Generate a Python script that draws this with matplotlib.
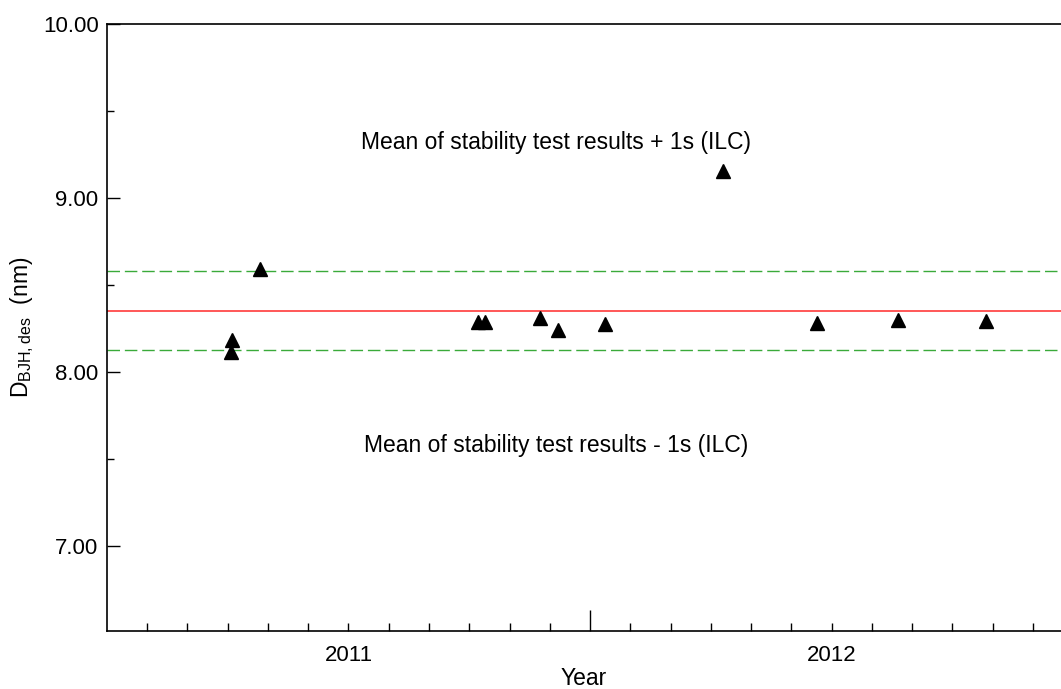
import matplotlib.pyplot as plt
from matplotlib.ticker import MultipleLocator, FixedLocator, FixedFormatter

plt.rcParams['font.family'] = ['Liberation Sans', 'DejaVu Sans']
plt.rcParams['mathtext.fontset'] = 'custom'
plt.rcParams['mathtext.rm'] = 'Liberation Sans'

# measurement dates (decimal year) and pore diameters
dates = [2011.259, 2011.257, 2011.317, 2011.768, 2011.783, 2011.896,
         2011.934, 2012.031, 2012.275, 2012.470, 2012.638, 2012.820]
diam = [8.186, 8.118, 8.592, 8.291, 8.291, 8.313,
        8.245, 8.275, 9.159, 8.283, 8.302, 8.293]

mean_ilc = 8.355
sd_ilc = 0.227

year_labels = {2011.5: '2011', 2012.5: '2012'}

fig = plt.figure(figsize=(10.61, 6.89), dpi=100)
ax = fig.add_axes([0.1008, 0.0846, 0.8992, 0.8801])

ax.axhline(mean_ilc, color='#ff2a2a', lw=1.1, zorder=1)
ax.axhline(mean_ilc + sd_ilc, color='#3aaa3a', lw=1.0, dashes=(9, 3.5), zorder=1)
ax.axhline(mean_ilc - sd_ilc, color='#3aaa3a', lw=1.0, dashes=(9, 3.5), zorder=1)
ax.plot(dates, diam, linestyle='none', marker='^', ms=9.5, color='black', zorder=3)

ax.set_xlim(2011.0, 2012.975)
ax.set_ylim(6.515, 10.0)

# y axis
ax.yaxis.set_major_locator(MultipleLocator(1.0))
ax.yaxis.set_minor_locator(MultipleLocator(0.5))
ax.yaxis.set_major_formatter(plt.FormatStrFormatter('%.2f'))

# x axis: long tick at the year boundary, monthly minor ticks, year names mid-year
months = [round(2011 + i / 12, 6) for i in range(1, 24) if i != 12]
ax.xaxis.set_major_locator(FixedLocator([2012.0]))
ax.xaxis.set_major_formatter(FixedFormatter(['']))
ax.set_xticks(months, [year_labels.get(m, '') for m in months], minor=True)

ax.tick_params(axis='both', which='both', direction='in', labelsize=16, width=1.0)
ax.tick_params(axis='y', which='major', length=9, pad=6)
ax.tick_params(axis='y', which='minor', length=5)
ax.tick_params(axis='x', which='major', length=15)
ax.tick_params(axis='x', which='minor', length=6, pad=10)

ax.spines['right'].set_visible(False)
for s in ('left', 'top', 'bottom'):
    ax.spines[s].set_linewidth(1.2)

ax.text(2011.93, 9.32, 'Mean of stability test results + 1s (ILC)',
        ha='center', va='center', fontsize=16.5)
ax.text(2011.93, 7.58, 'Mean of stability test results - 1s (ILC)',
        ha='center', va='center', fontsize=16.5)

ax.set_xlabel('Year', fontsize=16.5, labelpad=1)
ax.set_ylabel(r'D$_{\rm BJH,des}$  (nm)', fontsize=16.5, labelpad=5)

fig.savefig('out.png', dpi=100)
